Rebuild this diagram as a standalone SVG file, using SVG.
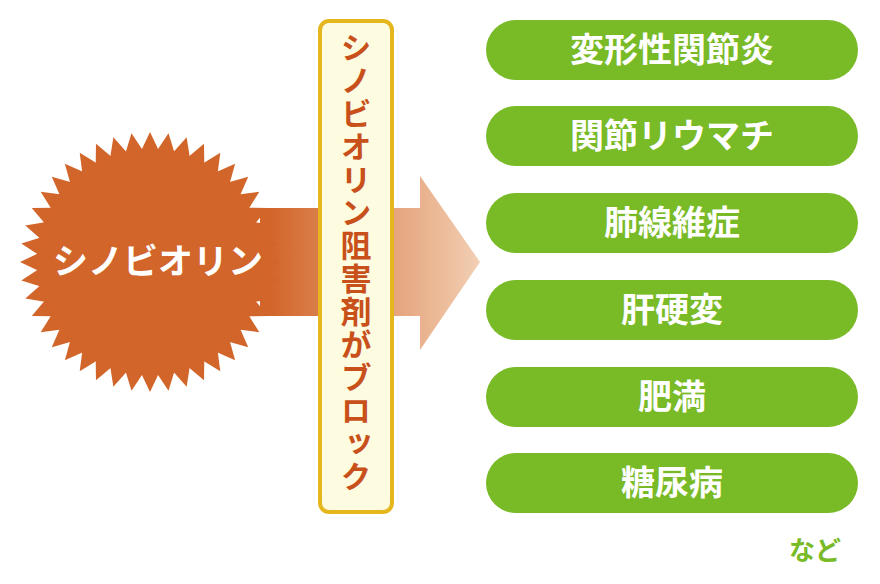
<svg xmlns="http://www.w3.org/2000/svg" width="880" height="584" viewBox="0 0 880 584">
<style>
.p{fill:#79ba27}
.pt{font-family:"Noto Sans CJK JP",sans-serif;font-weight:bold;font-size:34px;fill:#fff;text-anchor:middle}
</style>
<defs>
<linearGradient id="g" x1="270" y1="0" x2="480" y2="0" gradientUnits="userSpaceOnUse">
<stop offset="0" stop-color="#d2652a"/><stop offset="1" stop-color="#f2cfb4"/>
</linearGradient>
<polygon id="sp" points="141,151 159,151 150,132" fill="#d2652a"/>
</defs>
<rect width="880" height="584" fill="#fff"/>
<g id="connectors">
<path d="M260 208H420V176L480 262L420 350V316H260Z" fill="url(#g)"/>
</g>
<g id="burst">
<circle cx="150" cy="262" r="113" fill="#d2652a"/>
<use href="#sp" transform="rotate(0 150 262)"/><use href="#sp" transform="rotate(8.18 150 262)"/><use href="#sp" transform="rotate(16.36 150 262)"/><use href="#sp" transform="rotate(24.55 150 262)"/><use href="#sp" transform="rotate(32.73 150 262)"/><use href="#sp" transform="rotate(40.91 150 262)"/><use href="#sp" transform="rotate(49.09 150 262)"/><use href="#sp" transform="rotate(57.27 150 262)"/><use href="#sp" transform="rotate(65.45 150 262)"/><use href="#sp" transform="rotate(73.64 150 262)"/><use href="#sp" transform="rotate(81.82 150 262)"/><use href="#sp" transform="rotate(90 150 262)"/><use href="#sp" transform="rotate(98.18 150 262)"/><use href="#sp" transform="rotate(106.36 150 262)"/><use href="#sp" transform="rotate(114.55 150 262)"/><use href="#sp" transform="rotate(122.73 150 262)"/><use href="#sp" transform="rotate(130.91 150 262)"/><use href="#sp" transform="rotate(139.09 150 262)"/><use href="#sp" transform="rotate(147.27 150 262)"/><use href="#sp" transform="rotate(155.45 150 262)"/><use href="#sp" transform="rotate(163.64 150 262)"/><use href="#sp" transform="rotate(171.82 150 262)"/><use href="#sp" transform="rotate(180 150 262)"/><use href="#sp" transform="rotate(188.18 150 262)"/><use href="#sp" transform="rotate(196.36 150 262)"/><use href="#sp" transform="rotate(204.55 150 262)"/><use href="#sp" transform="rotate(212.73 150 262)"/><use href="#sp" transform="rotate(220.91 150 262)"/><use href="#sp" transform="rotate(229.09 150 262)"/><use href="#sp" transform="rotate(237.27 150 262)"/><use href="#sp" transform="rotate(245.45 150 262)"/><use href="#sp" transform="rotate(253.64 150 262)"/><use href="#sp" transform="rotate(261.82 150 262)"/><use href="#sp" transform="rotate(270 150 262)"/><use href="#sp" transform="rotate(278.18 150 262)"/><use href="#sp" transform="rotate(286.36 150 262)"/><use href="#sp" transform="rotate(294.55 150 262)"/><use href="#sp" transform="rotate(302.73 150 262)"/><use href="#sp" transform="rotate(310.91 150 262)"/><use href="#sp" transform="rotate(319.09 150 262)"/><use href="#sp" transform="rotate(327.27 150 262)"/><use href="#sp" transform="rotate(335.45 150 262)"/><use href="#sp" transform="rotate(343.64 150 262)"/><use href="#sp" transform="rotate(351.82 150 262)"/>
<text x="158" y="274" style="font-family:'Noto Sans CJK JP',sans-serif;font-weight:bold;font-size:35px;fill:#fff;text-anchor:middle">シノビオリン</text>
</g>
<g id="block">
<rect x="320" y="21" width="72" height="491" rx="9" fill="#fdfbe0" stroke="#e5b61e" stroke-width="4"/>
<text x="356" y="32" style="font-family:'Noto Sans CJK JP',sans-serif;font-weight:bold;font-size:31px;fill:#c8501a;writing-mode:vertical-rl;letter-spacing:2px">シノビオリン阻害剤がブロック</text>
</g>
<g id="n1"><rect class="p" x="486" y="20" width="372" height="60" rx="30"/><text class="pt" x="672" y="62">変形性関節炎</text></g>
<g id="n2"><rect class="p" x="486" y="106" width="372" height="60" rx="30"/><text class="pt" x="672" y="148">関節リウマチ</text></g>
<g id="n3"><rect class="p" x="486" y="193" width="372" height="60" rx="30"/><text class="pt" x="672" y="235">肺線維症</text></g>
<g id="n4"><rect class="p" x="486" y="280" width="372" height="60" rx="30"/><text class="pt" x="672" y="322">肝硬変</text></g>
<g id="n5"><rect class="p" x="486" y="367" width="372" height="60" rx="30"/><text class="pt" x="672" y="409">肥満</text></g>
<g id="n6"><rect class="p" x="486" y="453" width="372" height="60" rx="30"/><text class="pt" x="672" y="495">糖尿病</text></g>
<text x="815" y="560" style="font-family:'Noto Sans CJK JP',sans-serif;font-weight:bold;font-size:26px;fill:#79ba27;text-anchor:middle">など</text>
</svg>
